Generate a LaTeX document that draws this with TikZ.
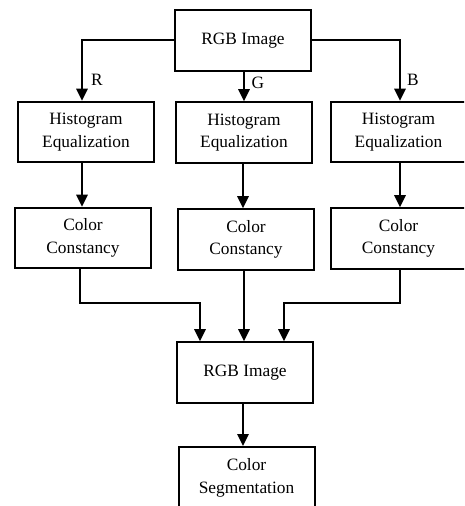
\documentclass[tikz,border=0pt]{standalone}
\usepackage{fontspec}
\setmainfont{Liberation Serif}
\usetikzlibrary{arrows.meta,calc}
\begin{document}
\begin{tikzpicture}[x=0.75pt,y=-0.75pt,
  box/.style={draw,line width=1.5pt,inner sep=0pt,align=center,
    font=\fontsize{13}{17}\selectfont,minimum width=102pt,minimum height=45.5pt},
  arr/.style={line width=1.5pt,-{Triangle[width=8.5pt,length=9pt]}},
  lab/.style={font=\fontsize{13}{15}\selectfont,inner sep=0pt}]
\useasboundingbox (0,0) rectangle (464,506);
\clip (0,0) rectangle (464,506);
\node[box] (top) at (243,40.5) {RGB Image};
\node[box] (he1) at (86,132) {Histogram\\Equalization};
\node[box] (he2) at (244,132.5) {Histogram\\Equalization};
\node[box] (he3) at (398.5,132) {Histogram\\Equalization};
\node[box] (cc1) at (83,238) {Color\\Constancy};
\node[box] (cc2) at (246,239.5) {Color\\Constancy};
\node[box] (cc3) at (398.5,238.5) {Color\\Constancy};
\node[box] (rgb) at (245,372.5) {RGB Image};
\node[box,minimum height=46.5pt] (seg) at (246.5,478) {Color\\Segmentation};
\node[lab] (lr) at (97,80) {R};
\node[lab] (lg) at (258,83) {G};
\node[lab] (lb) at (413,80) {B};
\coordinate (t1) at ($(he1.north)+(-4,0)$);
\coordinate (t3) at ($(he3.north)+(1.5,0)$);
\draw[arr] (top.west) -| (t1);
\draw[arr] (top.south -| he2.north) -- (he2.north);
\draw[arr] (top.east) -| (t3);
\draw[arr] ($(he1.south)+(-4,0)$) -- ($(cc1.north)+(-1,0)$);
\draw[arr] ($(he2.south)+(-1,0)$) -- ($(cc2.north)+(-3,0)$);
\draw[arr] ($(he3.south)+(1.5,0)$) -- ($(cc3.north)+(1.5,0)$);
\draw[arr] ($(cc1.south)+(-3,0)$) |- (200,303) -- (rgb.north -| 200,0);
\draw[arr] ($(cc2.south)+(-2,0)$) -- ($(rgb.north)+(-1,0)$);
\draw[arr] ($(cc3.south)+(1.5,0)$) |- (284,303) -- (rgb.north -| 284,0);
\draw[arr] ($(rgb.south)+(-2,0)$) -- ($(seg.north)+(-3.5,0)$);
\end{tikzpicture}
\end{document}
